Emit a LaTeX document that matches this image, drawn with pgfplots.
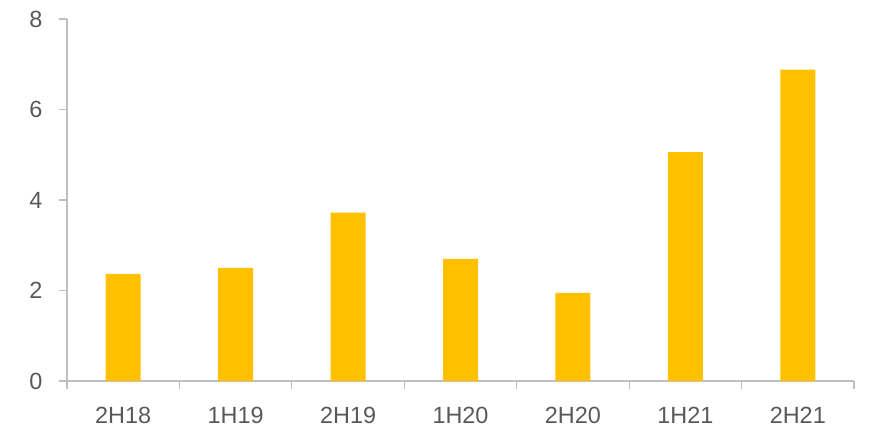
\documentclass[border=0pt]{standalone}
\usepackage{pgfplots}
\pgfplotsset{compat=1.18}
\usepackage{fontspec}
\setmainfont{Liberation Sans}
\definecolor{barc}{HTML}{FFC000}
\definecolor{axc}{HTML}{BFBFBF}
\definecolor{txt}{HTML}{595959}
\begin{document}
\begin{tikzpicture}[x=1bp,y=1bp]
\begin{axis}[name=ax,
  scale only axis, width=787bp, height=362bp,
  xmin=-0.5, xmax=6.5, ymin=0, ymax=8,
  axis x line=bottom, axis y line=left,
  axis line style={axc, line width=1.2bp, -},
  ytick={0,2,4,6,8},
  xtick={0,...,6},
  xticklabels={2H18,1H19,2H19,1H20,2H20,1H21,2H21},
  major x tick style={draw=none},
  minor xtick={-0.5,0.5,1.5,2.5,3.5,4.5,5.5,6.5},
  tick align=outside,
  major tick length=8bp, minor tick length=8bp,
  tick style={axc, line width=1.2bp},
  every tick label/.append style={font=\fontsize{23.5}{28}\selectfont, text=txt},
  /pgf/number format/assume math mode=true,
  xticklabel style={yshift=-15bp},
  yticklabel style={xshift=-13bp},
  ybar, bar width=35bp,
]
\addplot[fill=barc, draw=none] coordinates {(0,2.37) (1,2.50) (2,3.72) (3,2.70) (4,1.95) (5,5.06) (6,6.88)};
\end{axis}
\pgfresetboundingbox
\path ([xshift=-67bp,yshift=-50bp]ax.south west) rectangle ([xshift=23bp,yshift=19bp]ax.north east);
\end{tikzpicture}
\end{document}
